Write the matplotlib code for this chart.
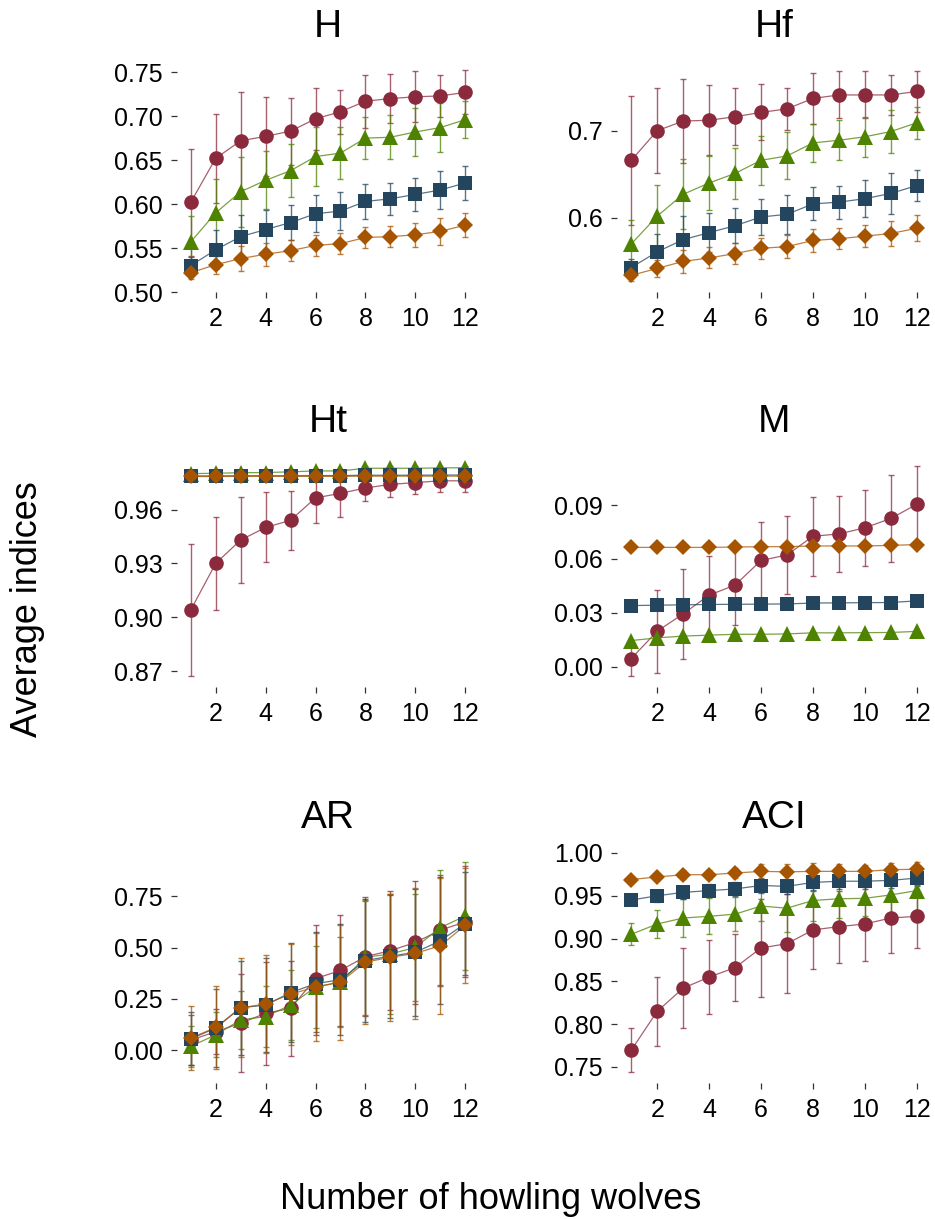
import numpy as np
import matplotlib.pyplot as plt

plt.rcParams['font.family'] = ['Liberation Sans', 'DejaVu Sans']

wolves = np.arange(1, 13)

# --- H ---
h_circle = [0.602, 0.652, 0.672, 0.677, 0.683, 0.697, 0.705, 0.717, 0.720, 0.722, 0.723, 0.727]
h_circle_sd = [0.061, 0.051, 0.055, 0.045, 0.038, 0.035, 0.025, 0.030, 0.028, 0.029, 0.024, 0.025]
h_triangle = [0.557, 0.590, 0.614, 0.627, 0.638, 0.654, 0.658, 0.675, 0.676, 0.682, 0.687, 0.696]
h_triangle_sd = [0.029, 0.038, 0.040, 0.033, 0.030, 0.034, 0.030, 0.024, 0.025, 0.027, 0.028, 0.021]
h_square = [0.530, 0.548, 0.563, 0.571, 0.579, 0.589, 0.592, 0.603, 0.606, 0.611, 0.616, 0.624]
h_square_sd = [0.010, 0.022, 0.025, 0.022, 0.020, 0.021, 0.022, 0.020, 0.018, 0.019, 0.022, 0.019]
h_diamond = [0.522, 0.531, 0.538, 0.543, 0.547, 0.553, 0.555, 0.562, 0.563, 0.565, 0.569, 0.576]
h_diamond_sd = [0.007, 0.010, 0.014, 0.013, 0.012, 0.012, 0.012, 0.012, 0.012, 0.014, 0.015, 0.014]

# --- Hf ---
hf_circle = [0.666, 0.700, 0.711, 0.712, 0.716, 0.721, 0.725, 0.737, 0.741, 0.741, 0.741, 0.745]
hf_circle_sd = [0.074, 0.049, 0.048, 0.040, 0.033, 0.032, 0.024, 0.029, 0.027, 0.027, 0.023, 0.024]
hf_triangle = [0.570, 0.602, 0.627, 0.640, 0.651, 0.666, 0.671, 0.686, 0.689, 0.693, 0.699, 0.709]
hf_triangle_sd = [0.027, 0.036, 0.040, 0.031, 0.029, 0.028, 0.027, 0.022, 0.023, 0.023, 0.025, 0.018]
hf_square = [0.543, 0.561, 0.575, 0.583, 0.591, 0.601, 0.604, 0.616, 0.618, 0.622, 0.628, 0.637]
hf_square_sd = [0.010, 0.021, 0.027, 0.022, 0.020, 0.021, 0.022, 0.019, 0.019, 0.021, 0.024, 0.018]
hf_diamond = [0.534, 0.542, 0.550, 0.554, 0.559, 0.565, 0.567, 0.574, 0.576, 0.579, 0.582, 0.588]
hf_diamond_sd = [0.007, 0.010, 0.013, 0.012, 0.012, 0.012, 0.013, 0.013, 0.012, 0.013, 0.014, 0.015]

# --- Ht ---
ht_circle = [0.904, 0.930, 0.943, 0.950, 0.954, 0.9665, 0.969, 0.972, 0.974, 0.975, 0.976, 0.976]
ht_circle_sd = [0.037, 0.026, 0.024, 0.0195, 0.0165, 0.014, 0.013, 0.0074, 0.0068, 0.0065, 0.0065, 0.0065]
ht_triangle = [0.9800, 0.9802, 0.9805, 0.9806, 0.9810, 0.9815, 0.9815, 0.9830, 0.9830, 0.9830, 0.9832, 0.9833]
ht_triangle_sd = [0.0012, 0.0012, 0.0012, 0.0012, 0.0012, 0.0012, 0.0012, 0.0012, 0.0012, 0.0012, 0.0012, 0.0012]
ht_square = [0.9787, 0.9787, 0.9788, 0.9788, 0.9788, 0.9789, 0.9789, 0.9791, 0.9791, 0.9791, 0.9792, 0.9792]
ht_square_sd = [0.001, 0.001, 0.001, 0.001, 0.001, 0.001, 0.001, 0.001, 0.001, 0.001, 0.001, 0.001]
ht_diamond = [0.9784, 0.9784, 0.9785, 0.9785, 0.9785, 0.9785, 0.9785, 0.9786, 0.9786, 0.9786, 0.9786, 0.9786]
ht_diamond_sd = [0.0005, 0.0005, 0.0005, 0.0005, 0.0005, 0.0005, 0.0005, 0.0005, 0.0005, 0.0005, 0.0005, 0.0005]

# --- M ---
m_circle = [0.0045, 0.0197, 0.0294, 0.0398, 0.0454, 0.0591, 0.0622, 0.0726, 0.0739, 0.0773, 0.0825, 0.0904]
m_circle_sd = [0.010, 0.023, 0.025, 0.022, 0.022, 0.0215, 0.0215, 0.022, 0.021, 0.021, 0.0245, 0.0216]
m_triangle = [0.0145, 0.0160, 0.0170, 0.0175, 0.0180, 0.0180, 0.0182, 0.0188, 0.0188, 0.0189, 0.0190, 0.0196]
m_triangle_sd = [0.0005, 0.0005, 0.0005, 0.0005, 0.0005, 0.0005, 0.0005, 0.0005, 0.0005, 0.0005, 0.0005, 0.0005]
m_square = [0.0340, 0.0342, 0.0344, 0.0346, 0.0347, 0.0348, 0.0349, 0.0354, 0.0355, 0.0356, 0.0357, 0.0366]
m_square_sd = [0.0005, 0.0005, 0.0005, 0.0005, 0.0005, 0.0005, 0.0005, 0.0005, 0.0005, 0.0005, 0.0005, 0.0005]
m_diamond = [0.0664, 0.0664, 0.0664, 0.0664, 0.0666, 0.0668, 0.0668, 0.0672, 0.0672, 0.0672, 0.0675, 0.0680]
m_diamond_sd = [0.0005, 0.0005, 0.0005, 0.0005, 0.0005, 0.0005, 0.0005, 0.0005, 0.0005, 0.0005, 0.0005, 0.0005]

# --- AR ---
ar_circle = [0.050, 0.090, 0.132, 0.180, 0.204, 0.349, 0.389, 0.456, 0.485, 0.525, 0.585, 0.625]
ar_circle_sd = [0.12, 0.11, 0.24, 0.25, 0.23, 0.26, 0.27, 0.29, 0.29, 0.30, 0.27, 0.27]
ar_triangle = [0.019, 0.075, 0.148, 0.164, 0.220, 0.308, 0.332, 0.453, 0.469, 0.501, 0.597, 0.654]
ar_triangle_sd = [0.10, 0.11, 0.14, 0.15, 0.17, 0.20, 0.22, 0.28, 0.29, 0.26, 0.28, 0.265]
ar_square = [0.056, 0.108, 0.207, 0.220, 0.281, 0.324, 0.344, 0.437, 0.458, 0.477, 0.533, 0.617]
ar_square_sd = [0.13, 0.19, 0.23, 0.23, 0.24, 0.25, 0.27, 0.30, 0.30, 0.31, 0.31, 0.25]
ar_diamond = [0.059, 0.111, 0.207, 0.225, 0.273, 0.308, 0.332, 0.429, 0.453, 0.472, 0.509, 0.609]
ar_diamond_sd = [0.155, 0.20, 0.24, 0.24, 0.245, 0.265, 0.28, 0.30, 0.31, 0.32, 0.33, 0.28]

# --- ACI ---
aci_circle = [0.7695, 0.815, 0.842, 0.855, 0.866, 0.889, 0.894, 0.910, 0.914, 0.917, 0.924, 0.926]
aci_circle_sd = [0.026, 0.040, 0.047, 0.043, 0.039, 0.057, 0.058, 0.046, 0.042, 0.043, 0.041, 0.037]
aci_triangle = [0.905, 0.917, 0.924, 0.926, 0.9285, 0.938, 0.9355, 0.9445, 0.9465, 0.947, 0.951, 0.956]
aci_triangle_sd = [0.013, 0.016, 0.022, 0.021, 0.020, 0.017, 0.0275, 0.0235, 0.023, 0.021, 0.025, 0.023]
aci_square = [0.945, 0.950, 0.954, 0.956, 0.958, 0.962, 0.961, 0.9656, 0.967, 0.967, 0.968, 0.9707]
aci_square_sd = [0.005, 0.007, 0.008, 0.008, 0.008, 0.009, 0.009, 0.009, 0.009, 0.009, 0.009, 0.009]
aci_diamond = [0.969, 0.972, 0.9746, 0.9746, 0.9766, 0.9785, 0.978, 0.9785, 0.9785, 0.9785, 0.9805, 0.981]
aci_diamond_sd = [0.003, 0.004, 0.005, 0.005, 0.006, 0.009, 0.009, 0.010, 0.009, 0.008, 0.008, 0.009]

x_ticks = [2, 4, 6, 8, 10, 12]

# marker styles, drawn in this order
styles = [
    ('o', '#8B2A3D', 10.5),
    ('^', '#4E8300', 11.5),
    ('s', '#23465E', 10.0),
    ('D', '#A65400', 8.0),
]

# title, series, y ticks, tick format, axes rect in pixels (left, top, width, height)
panels = [
    ('H', [(h_circle, h_circle_sd), (h_triangle, h_triangle_sd), (h_square, h_square_sd), (h_diamond, h_diamond_sd)],
     [0.50, 0.55, 0.60, 0.65, 0.70, 0.75], '{:.2f}', (177, 60, 302, 232)),
    ('Hf', [(hf_circle, hf_circle_sd), (hf_triangle, hf_triangle_sd), (hf_square, hf_square_sd), (hf_diamond, hf_diamond_sd)],
     [0.6, 0.7], '{:.1f}', (617, 60, 314, 232)),
    ('Ht', [(ht_circle, ht_circle_sd), (ht_triangle, ht_triangle_sd), (ht_square, ht_square_sd), (ht_diamond, ht_diamond_sd)],
     [0.87, 0.90, 0.93, 0.96], '{:.2f}', (177, 455, 302, 232)),
    ('M', [(m_circle, m_circle_sd), (m_triangle, m_triangle_sd), (m_square, m_square_sd), (m_diamond, m_diamond_sd)],
     [0.00, 0.03, 0.06, 0.09], '{:.2f}', (617, 455, 314, 232)),
    ('AR', [(ar_circle, ar_circle_sd), (ar_triangle, ar_triangle_sd), (ar_square, ar_square_sd), (ar_diamond, ar_diamond_sd)],
     [0.00, 0.25, 0.50, 0.75], '{:.2f}', (177, 851, 302, 232)),
    ('ACI', [(aci_circle, aci_circle_sd), (aci_triangle, aci_triangle_sd), (aci_square, aci_square_sd), (aci_diamond, aci_diamond_sd)],
     [0.75, 0.80, 0.85, 0.90, 0.95, 1.00], '{:.2f}', (617, 851, 314, 232)),
]

W, H = 935, 1219
fig = plt.figure(figsize=(W / 100, H / 100), dpi=100)

for title, series, yticks, fmt, (left, top, width, height) in panels:
    ax = fig.add_axes([left / W, 1 - (top + height) / H, width / W, height / H])
    lo, hi = np.inf, -np.inf
    for (mean, sd), (marker, color, ms) in zip(series, styles):
        mean = np.array(mean)
        sd = np.array(sd)
        lo = min(lo, (mean - sd).min())
        hi = max(hi, (mean + sd).max())
        ax.errorbar(wolves, mean, yerr=sd, fmt='none', ecolor=color, elinewidth=1.0,
                    capsize=2.2, capthick=1.0, alpha=0.75, zorder=2)
        ax.plot(wolves, mean, color=color, lw=0.9, alpha=0.75, zorder=3)
        ax.plot(wolves, mean, ls='none', marker=marker, ms=ms, color=color,
                markeredgewidth=0, zorder=4)
    pad = 0.05 * (hi - lo)
    ax.set_ylim(lo - pad, hi + pad)
    ax.set_xlim(0.45, 12.55)
    ax.set_xticks(x_ticks)
    ax.set_yticks(yticks)
    ax.set_yticklabels([fmt.format(v) for v in yticks])
    for s in ax.spines.values():
        s.set_visible(False)
    ax.tick_params(length=4.5, width=0.9, color='#333333', labelsize=18, pad=6)
    ax.set_facecolor('none')
    fig.text((left + width / 2) / W, 1 - (top - 33) / H, title, ha='center', va='center', fontsize=28)

fig.text(28 / W, 0.5, 'Average indices', rotation=90, ha='center', va='center', fontsize=26)
fig.text(491 / W, 1 - 1209 / H, 'Number of howling wolves', ha='center', va='baseline', fontsize=26)

fig.savefig('out.png', dpi=100)
